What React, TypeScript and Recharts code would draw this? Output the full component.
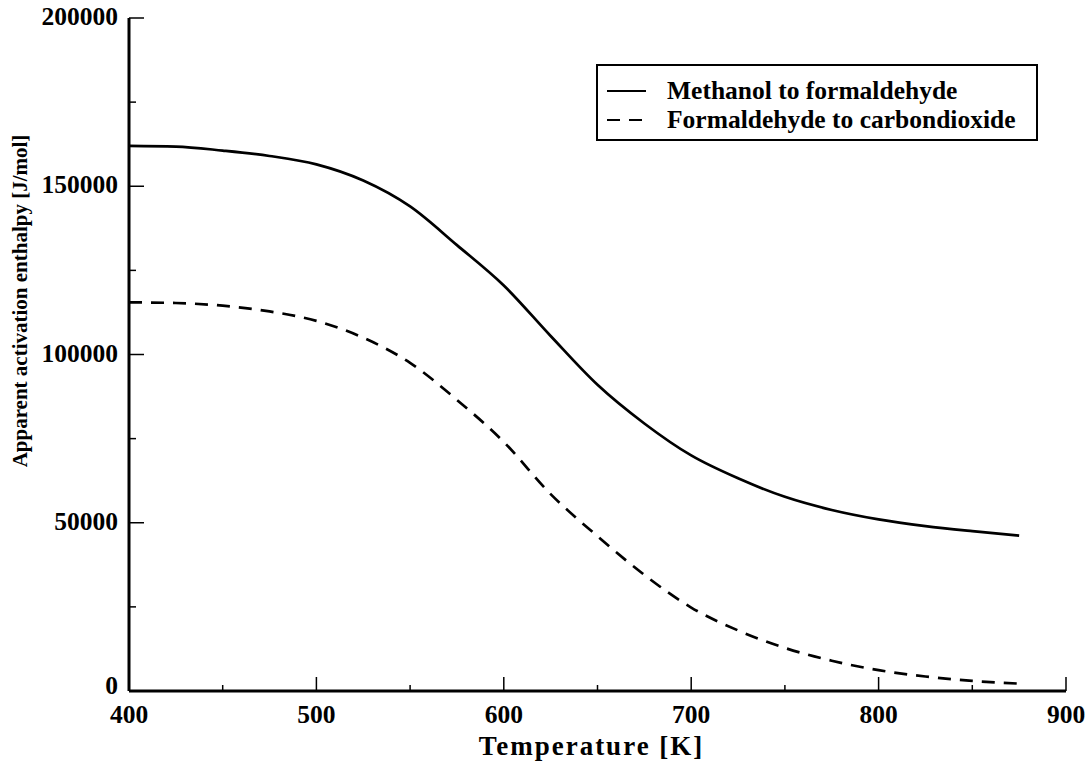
import React from "react";
import { LineChart, Line, XAxis, YAxis } from "recharts";

// Temperature grid [K]
const temperature = [400, 425, 450, 475, 500, 525, 550, 575, 600, 625, 650, 675, 700, 725, 750, 775, 800, 825, 850, 875];

// Apparent activation enthalpy [J/mol]
const methanolToFormaldehyde = [162000, 161800, 160600, 159000, 156500, 151700, 144000, 132500, 120500, 105500, 91000, 79500, 70000, 63200, 57700, 53800, 51000, 49000, 47500, 46200];
const formaldehydeToCarbondioxide = [115500, 115300, 114500, 112800, 110000, 105000, 97500, 86500, 74000, 58500, 46000, 34500, 24800, 18000, 12800, 9000, 6200, 4300, 3000, 2200];

const xTicks = [400, 450, 500, 550, 600, 650, 700, 750, 800, 850, 900];
const yTicks = [0, 25000, 50000, 75000, 100000, 125000, 150000, 175000, 200000];

const seriesNames = ["Methanol to formaldehyde", "Formaldehyde to carbondioxide"];

const data = temperature.map((t, i) => ({
  t,
  methanol: methanolToFormaldehyde[i],
  formaldehyde: formaldehydeToCarbondioxide[i],
}));

const FONT = "'Liberation Serif', 'Times New Roman', serif";
const INK = "#000";
const TICK_FONT = 25.5;

const isMajorX = (v: number) => v % 100 === 0;
const isMajorY = (v: number) => v % 50000 === 0;

const BottomTick = (props: any) => {
  const { x, y, payload } = props;
  const major = isMajorX(payload.value);
  return (
    <g>
      <line x1={x} x2={x} y1={y} y2={y - (major ? 14 : 6)} stroke={INK} strokeWidth={1.5} />
      {major && (
        <text x={x} y={y + 32} textAnchor="middle" fontFamily={FONT} fontWeight="bold" fontSize={TICK_FONT} fill={INK}>
          {payload.value}
        </text>
      )}
    </g>
  );
};

const TopTick = (props: any) => {
  const { x, y, payload } = props;
  const major = isMajorX(payload.value);
  return <line x1={x} x2={x} y1={y} y2={y + (major ? 10 : 5)} stroke={INK} strokeWidth={1.5} />;
};

const LeftTick = (props: any) => {
  const { x, y, payload } = props;
  const major = isMajorY(payload.value);
  // the zero label sits a little higher so it clears the first x label
  const dy = payload.value === 0 ? 3 : 7;
  return (
    <g>
      <line x1={x} x2={x + (major ? 15 : 7)} y1={y} y2={y} stroke={INK} strokeWidth={1.5} />
      {major && (
        <text x={x - 11} y={y + dy} textAnchor="end" fontFamily={FONT} fontWeight="bold" fontSize={TICK_FONT} fill={INK}>
          {payload.value}
        </text>
      )}
    </g>
  );
};

const RightTick = (props: any) => {
  const { x, y, payload } = props;
  const major = isMajorY(payload.value);
  return <line x1={x} x2={x - (major ? 12 : 7)} y1={y} y2={y} stroke={INK} strokeWidth={1.5} />;
};

// Legend box drawn over the plot area, top right
const LegendBox = () => (
  <svg width={442} height={77} style={{ position: "absolute", left: 596, top: 64, display: "block" }}>
    <rect x={1} y={1} width={440} height={75} fill="#fff" stroke={INK} strokeWidth={2} />
    <line x1={11} x2={50} y1={27} y2={27} stroke={INK} strokeWidth={2} />
    <line x1={11} x2={50} y1={56} y2={56} stroke={INK} strokeWidth={2} strokeDasharray="13 9" />
    <text x={71} y={35} fontFamily={FONT} fontWeight="bold" fontSize={25.5} fill={INK}>
      {seriesNames[0]}
    </text>
    <text x={71} y={64} fontFamily={FONT} fontWeight="bold" fontSize={25.5} fill={INK}>
      {seriesNames[1]}
    </text>
  </svg>
);

export default function App() {
  return (
    <div style={{ position: "absolute", left: 0, top: 0, width: 1089, height: 762, background: "#fff" }}>
      <LineChart width={1089} height={762} data={data} margin={{ top: 18, right: 23, bottom: 0, left: 0 }}>
        <XAxis
          dataKey="t"
          type="number"
          domain={[400, 900]}
          ticks={xTicks}
          interval={0}
          height={71}
          tickSize={0}
          tickMargin={0}
          tickLine={false}
          axisLine={{ stroke: INK, strokeWidth: 3 }}
          tick={<BottomTick />}
          label={(p: any) => {
            const vb = p.viewBox;
            return (
              <text x={vb.x + vb.width / 2 - 6} y={vb.y + 64} textAnchor="middle" fontFamily={FONT} fontWeight="bold" fontSize={27} letterSpacing={2} fill={INK}>
                Temperature [K]
              </text>
            );
          }}
        />
        <XAxis
          xAxisId="top"
          orientation="top"
          dataKey="t"
          type="number"
          domain={[400, 900]}
          ticks={xTicks}
          interval={0}
          height={0}
          tickSize={0}
          tickMargin={0}
          tickLine={false}
          axisLine={{ stroke: INK, strokeWidth: 3 }}
          tick={<TopTick />}
        />
        <YAxis
          type="number"
          domain={[0, 200000]}
          ticks={yTicks}
          interval={0}
          width={129}
          tickSize={0}
          tickMargin={0}
          tickLine={false}
          axisLine={{ stroke: INK, strokeWidth: 3 }}
          tick={<LeftTick />}
          label={() => {
            const cx = 20;
            const cy = 301;
            return (
              <text x={cx} y={cy} transform={`rotate(-90 ${cx} ${cy})`} textAnchor="middle" dominantBaseline="central" fontFamily={FONT} fontWeight="bold" fontSize={21} fill={INK}>
                Apparent activation enthalpy [J/mol]
              </text>
            );
          }}
        />
        <YAxis
          yAxisId="right"
          orientation="right"
          type="number"
          domain={[0, 200000]}
          ticks={yTicks}
          interval={0}
          width={0}
          tickSize={0}
          tickMargin={0}
          tickLine={false}
          axisLine={{ stroke: INK, strokeWidth: 3 }}
          tick={<RightTick />}
        />
        <Line
          type="monotone"
          dataKey="methanol"
          name={seriesNames[0]}
          stroke={INK}
          strokeWidth={2.7}
          dot={false}
          isAnimationActive={false}
        />
        <Line
          type="monotone"
          dataKey="formaldehyde"
          name={seriesNames[1]}
          stroke={INK}
          strokeWidth={2.7}
          strokeDasharray="13 9"
          dot={false}
          isAnimationActive={false}
        />
      </LineChart>
      <LegendBox />
    </div>
  );
}
